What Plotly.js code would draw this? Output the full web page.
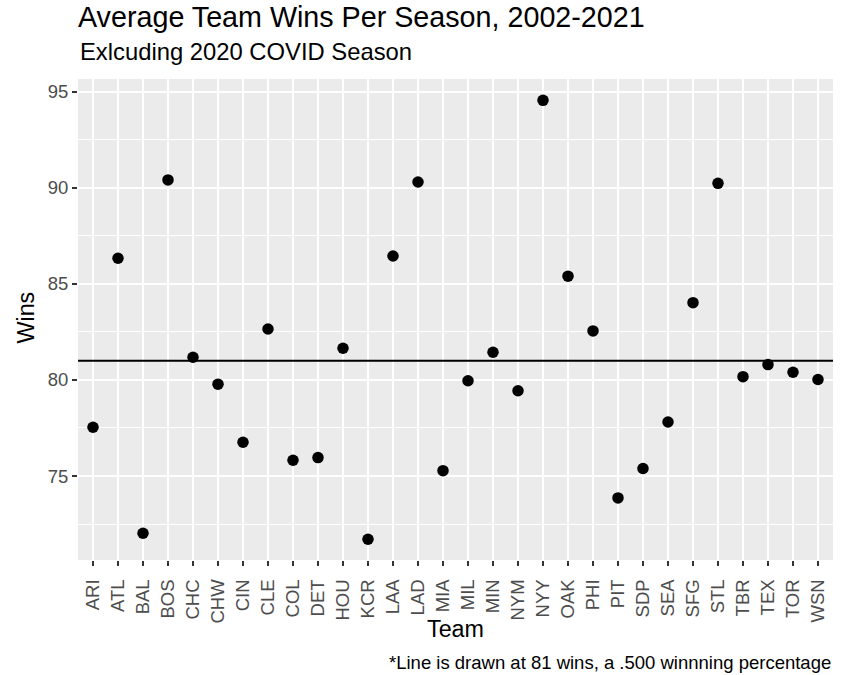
<!DOCTYPE html>
<html>
<head>
<meta charset="utf-8">
<script src="https://cdn.plot.ly/plotly-3.0.1.min.js"></script>
<style>
  html, body { margin: 0; padding: 0; background: #ffffff; }
  #chart { width: 846px; height: 675px; }
</style>
</head>
<body>
<div id="chart"></div>
<script>
const teams = ["ARI","ATL","BAL","BOS","CHC","CHW","CIN","CLE","COL","DET",
               "HOU","KCR","LAA","LAD","MIA","MIL","MIN","NYM","NYY","OAK",
               "PHI","PIT","SDP","SEA","SFG","STL","TBR","TEX","TOR","WSN"];
const avgWins = [77.54, 86.33, 72.02, 90.41, 81.18, 79.78, 76.76, 82.65, 75.82, 75.96,
                 81.65, 71.71, 86.45, 90.30, 75.28, 79.96, 81.44, 79.44, 94.55, 85.40,
                 82.55, 73.86, 75.39, 77.81, 84.02, 90.23, 80.17, 80.80, 80.40, 80.02];
const lineWins = 81;
const yTicks = [75, 80, 85, 90, 95];

const W = 846, H = 675;
const mL = 78, mR = 13, mT = 79, mB = 115;
const pw = W - mL - mR, ph = H - mT - mB;
const px2x = px => (px - mL) / pw;
const py2y = py => (H - mB - py) / ph;

const FONT = '"Liberation Sans", Arial, Helvetica, sans-serif';

const trace = {
  type: 'scatter',
  mode: 'markers',
  x: teams,
  y: avgWins,
  marker: { color: '#000000', size: 11.5, line: { width: 0 } },
  hoverinfo: 'x+y',
  showlegend: false
};

const layout = {
  width: W,
  height: H,
  margin: { l: mL, r: mR, t: mT, b: mB, pad: 0 },
  paper_bgcolor: '#ffffff',
  plot_bgcolor: '#EBEBEB',
  font: { family: FONT, color: '#000000' },
  title: {
    text: 'Average Team Wins Per Season, 2002-2021',
    font: { family: FONT, size: 28.7, color: '#000000' },
    xref: 'paper', x: 0, xanchor: 'left',
    yref: 'container', y: 1 - 17 / H, yanchor: 'middle'
  },
  xaxis: {
    type: 'category',
    categoryorder: 'array',
    categoryarray: teams,
    range: [-0.6, teams.length - 1 + 0.6],
    showgrid: true, gridcolor: '#ffffff', gridwidth: 2,
    zeroline: false, showline: false,
    ticks: 'outside', ticklen: 5, tickwidth: 1.6, tickcolor: '#333333',
    tickangle: -90,
    ticklabelstandoff: 6,
    tickfont: { family: FONT, size: 18.5, color: '#4D4D4D' },
    title: { text: '' },
    fixedrange: true
  },
  yaxis: {
    range: [70.63, 95.66],
    tickvals: yTicks,
    ticktext: yTicks.map(String),
    showgrid: true, gridcolor: '#ffffff', gridwidth: 2,
    minor: { tickvals: [72.5, 77.5, 82.5, 87.5, 92.5], showgrid: true, gridcolor: '#ffffff', gridwidth: 1, ticks: '' },
    zeroline: false, showline: false,
    ticks: 'outside', ticklen: 5, tickwidth: 1.6, tickcolor: '#333333',
    tickfont: { family: FONT, size: 18.5, color: '#4D4D4D' },
    title: { text: '' },
    fixedrange: true
  },
  shapes: [{
    type: 'line', xref: 'paper', yref: 'y',
    x0: 0, x1: 1, y0: lineWins, y1: lineWins,
    line: { color: '#000000', width: 2 }
  }],
  annotations: [
    { text: 'Exlcuding 2020 COVID Season', xref: 'paper', yref: 'paper',
      x: 0, xanchor: 'left', y: py2y(52), yanchor: 'middle', showarrow: false,
      font: { family: FONT, size: 23.8, color: '#000000' } },
    { text: 'Wins', xref: 'paper', yref: 'paper',
      x: px2x(25.5), xanchor: 'center', y: py2y(318), yanchor: 'middle', showarrow: false,
      textangle: -90,
      font: { family: FONT, size: 23.3, color: '#000000' } },
    { text: 'Team', xref: 'paper', yref: 'paper',
      x: 0.5, xanchor: 'center', y: py2y(629), yanchor: 'middle', showarrow: false,
      font: { family: FONT, size: 23.3, color: '#000000' } },
    { text: '*Line is drawn at 81 wins, a .500 winnning percentage', xref: 'paper', yref: 'paper',
      x: 1, xanchor: 'right', y: py2y(662.5), yanchor: 'middle', showarrow: false,
      font: { family: FONT, size: 18.5, color: '#000000' } }
  ]
};

Plotly.newPlot('chart', [trace], layout, { displayModeBar: false, staticPlot: false });
</script>
</body>
</html>
